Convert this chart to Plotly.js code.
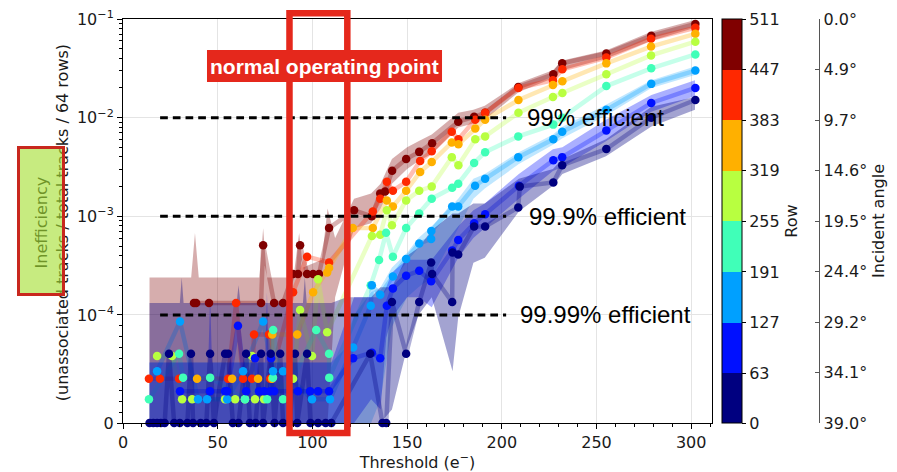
<!DOCTYPE html>
<html><head><meta charset="utf-8">
<script src="https://cdn.plot.ly/plotly-3.0.1.min.js"></script>
<style>html,body{margin:0;padding:0;background:#fff}#chart{width:897px;height:472px}</style>
</head><body><div id="chart"></div>
<script>
// ---------- data ----------
const rowBins = ['0–63','63–127','127–191','191–255','255–319','319–383','383–447','447–511'];
const rowTicks = [0, 63, 127, 191, 255, 319, 383, 447, 511];
const binColors = ['#000080','#0010ff','#00a0ff','#40ffb8','#b8ff40','#ffb000','#ff2800','#800000'];
const angleVals = [0, 4.875, 9.75, 14.625, 19.5, 24.375, 29.25, 34.125, 39];
const angleText = ['0.0°','4.9°','9.7°','14.6°','19.5°','24.4°','29.2°','34.1°','39.0°'];
const xTicks = [0, 50, 100, 150, 200, 250, 300];
const yTickVals = [0, 1e-4, 1e-3, 1e-2, 1e-1];
const yTickText = ['0', '10<sup>−4</sup>', '10<sup>−3</sup>', '10<sup>−2</sup>', '10<sup>−1</sup>'];
const effLevels = [1e-2, 1e-3, 1e-4];
const effLabels = ['99% efficient', '99.9% efficient', '99.99% efficient'];

// rows 0-63
const thr0 = [14,16,18,20,22,24.3,27,30,34,35.9,37,41,44,46,48,53.9,55.5,58,61,65,67,70,72.9,74,78,80,83,84.5,88,90.8,92,97.2,99,103,107,110,130.5,137,139,142,149.5,156.4,162.7,163.2,173.8,174,177,185.4,191.2,208.7,209.5,227.2,231.9,255.2,278.9,302.2];
const ineff0 = [0,0,0,0,0,6.4e-5,0,0,0,6.4e-5,0,0,0,6.4e-5,0,6.4e-5,6.4e-5,0,0,6.4e-5,0,0,6.4e-5,0,6.4e-5,0,6.4e-5,0,0,6.4e-5,0,6.4e-5,0,0,0,0,6.4e-5,0,0,1.35e-4,6.4e-5,1.35e-4,3.4e-4,2.6e-4,1.35e-4,4.3e-4,4.1e-4,7.9e-4,7.9e-4,1.23e-3,2.0e-3,2.2e-3,3.3e-3,4.8e-3,1.0e-2,1.51e-2];
const bandThr0 = [14,30,31,32,60,61,62,95,96,97,110,118,131,136,142,150,156,163,174,177,185,191,209,227,232,255,279,302];
const bandHi0 = [1.32e-4,1.32e-4,2.4e-4,1.32e-4,1.32e-4,2.0e-4,1.32e-4,1.32e-4,2.4e-4,1.32e-4,1.32e-4,1.51e-4,1.51e-4,1.91e-4,1.91e-4,3.98e-4,4.79e-4,7.24e-4,1.07e-3,1.07e-3,1.35e-3,1.35e-3,2.4e-3,3.02e-3,3.8e-3,6.03e-3,1.29e-2,1.62e-2];
const bandLo0 = [0,0,0,0,0,0,0,0,0,0,0,0,0,0,1.24e-5,7.0e-5,1.0e-4,1.51e-4,4.8e-5,9.8e-5,3.39e-4,3.8e-4,1.12e-3,2.04e-3,2.69e-3,4.07e-3,8.13e-3,1.2e-2];

// rows 63-127
const thr1 = [30.1,45.9,53.9,55,60.7,65,69.7,71.8,74.5,77.7,78.2,79.8,92.4,98.8,103,108.8,121.5,131.4,135.8,139.3,142.5,149.5,156.4,162.7,173.8,177,185.4,191.2,209,227.2,231.9,255.2,278.9,302.2];
const ineff1 = [2.95e-5,2.95e-5,2.95e-5,2.95e-5,9.0e-5,2.95e-5,6.0e-5,2.95e-5,2.95e-5,2.95e-5,6.0e-5,2.95e-5,2.95e-5,2.95e-5,2.95e-5,2.95e-5,6.0e-5,6.5e-5,6.0e-5,1.24e-4,1.86e-4,2.5e-4,2.8e-4,2.2e-4,4.5e-4,5.75e-4,8.5e-4,1.05e-3,2.04e-3,3.7e-3,3.98e-3,7.4e-3,1.41e-2,2.0e-2];
const bandThr1 = [14,45,46,47,75,76,77,110,122,131,136,139,142,150,156,163,177,185,191,209,227,232,255,279,302];
const bandHi1 = [5.6e-5,5.6e-5,1.5e-4,5.6e-5,5.6e-5,1.7e-4,5.6e-5,5.6e-5,1.51e-4,1.51e-4,1.51e-4,1.91e-4,2.69e-4,3.63e-4,3.63e-4,3.63e-4,7.94e-4,1.15e-3,1.35e-3,2.69e-3,4.79e-3,5.0e-3,9.55e-3,1.7e-2,2.4e-2];
const bandLo1 = [0,0,0,0,0,0,0,0,0,2.2e-5,1.24e-5,7.9e-5,9.8e-5,1.51e-4,1.51e-4,1.2e-4,3.8e-4,6.03e-4,7.59e-4,1.51e-3,2.88e-3,3.16e-3,5.75e-3,1.15e-2,1.66e-2];

// rows 127-191
const thr2 = [18,30.1,39.6,44.4,55,63.4,74,79.2,84.5,99.8,109.3,121.5,130.8,131.4,135.8,142.5,149.5,156.4,162.7,162.8,173.8,177,185.9,191.2,208.7,227.2,231.9,255.2,278.9,302.2];
const ineff2 = [4.8e-5,9.4e-5,2.2e-5,2.2e-5,2.2e-5,4.8e-5,9.4e-5,4.8e-5,4.8e-5,2.2e-5,2.2e-5,7.0e-5,1.24e-4,2.0e-4,1.6e-4,2.45e-4,3.7e-4,5.3e-4,5.9e-4,7.1e-4,1.26e-3,1.26e-3,2.04e-3,2.4e-3,3.98e-3,6.03e-3,7.2e-3,1.2e-2,2.2e-2,3.0e-2];
const bandThr2 = [14,110,118,122,131,136,142,150,156,163,177,185,191,209,227,232,255,279,302];
const bandHi2 = [5.6e-5,5.6e-5,7.0e-5,1.0e-4,1.7e-4,1.91e-4,3.02e-4,4.27e-4,6.03e-4,7.94e-4,1.51e-3,2.4e-3,2.69e-3,4.47e-3,6.76e-3,8.1e-3,1.35e-2,2.4e-2,3.3e-2];
const bandLo2 = [0,0,0,0,0,2.2e-5,8.9e-5,1.51e-4,1.91e-4,2.4e-4,7.59e-4,1.51e-3,1.91e-3,3.39e-3,5.3e-3,6.2e-3,1.05e-2,2.0e-2,2.7e-2];

// rows 191-255
const thr3 = [13.7,29.6,31.7,46,64.4,76.1,79.2,79.3,84.5,102,108.8,108.9,130.8,135.2,138.9,142.5,149.5,156.4,163,173.8,177,185.4,191.2,208.7,227.2,231.9,255.2,278.9,302.2];
const ineff3 = [2.2e-5,6.4e-5,4.2e-5,4.2e-5,2.2e-5,2.2e-5,4.2e-5,8.6e-5,2.2e-5,8.6e-5,6.4e-5,4.2e-5,2.0e-4,3.6e-4,6.8e-4,3.9e-4,7.6e-4,1.07e-3,1.51e-3,1.95e-3,2.14e-3,3.47e-3,4.47e-3,6.46e-3,8.5e-3,1.0e-2,2.09e-2,3.16e-2,4.37e-2];

// rows 255-319
const thr4 = [18,25.9,31.2,36.5,53.9,59.2,64.4,68.1,69.7,74.5,89.8,93.5,99.8,103,107.8,131.4,135.8,139.3,142,149.5,156.4,163,173.6,177.1,186,191.2,208.8,227,232,255.2,278.8,302.2];
const ineff4 = [6.2e-5,6.2e-5,2.2e-5,2.2e-5,2.2e-5,2.2e-5,2.2e-5,6.2e-5,2.2e-5,2.2e-5,4.1e-5,1.12e-4,6.2e-5,2.3e-4,8.4e-5,6.3e-4,6.5e-4,1.15e-3,8.1e-4,1.45e-3,1.82e-3,2.0e-3,3.98e-3,3.3e-3,6.03e-3,6.46e-3,1.12e-2,1.62e-2,1.78e-2,2.75e-2,4.27e-2,5.89e-2];

// rows 319-383
const thr5 = [39.1,57.6,71.3,78.7,78.8,92,100.4,107.8,108.8,121.3,131.9,139.3,142.5,149.5,156.9,163,173.6,177.1,186,191.2,208.8,227,232,255.2,278.8,302.2];
const ineff5 = [4.1e-5,4.1e-5,4.1e-5,4.1e-5,8.2e-5,8.2e-5,1.7e-4,2.7e-4,3.0e-4,7.6e-4,7.6e-4,1.45e-3,1.26e-3,1.82e-3,2.82e-3,3.55e-3,5.6e-3,5.37e-3,7.76e-3,9.55e-3,1.51e-2,2.14e-2,2.34e-2,3.55e-2,5.25e-2,7.08e-2];

// rows 383-447
const thr6 = [13.7,19.5,29.6,55.5,59.7,63.4,68.1,69.2,77.1,77.7,89.8,97.2,108.8,131.9,135.8,139.3,142.5,149.5,156.9,163,173.6,177.1,186,191.2,208.8,227,232,255.2,278.8,302.2];
const ineff6 = [4.1e-5,4.1e-5,4.1e-5,4.1e-5,1.32e-4,4.1e-5,4.1e-5,8.2e-5,8.2e-5,4.1e-5,1.7e-4,3.9e-4,3.4e-4,1.12e-3,1.51e-3,2.24e-3,1.82e-3,2.24e-3,3.63e-3,4.57e-3,7.2e-3,6.03e-3,9.55e-3,1.12e-2,2.0e-2,2.4e-2,3.09e-2,4.07e-2,6.31e-2,8.13e-2];

// rows 447-511
const thr7 = [37.5,38.6,45.4,72.9,74,79.8,84.5,89.8,92.4,93.5,97.2,100.4,103.5,108.8,122,131.4,135.8,138.4,142.1,149.5,156.4,163.2,177,185.4,191.2,208.7,227.2,231.9,255.2,278.9,302.2];
const ineff7 = [1.32e-4,1.32e-4,1.32e-4,1.32e-4,5.1e-4,1.32e-4,1.32e-4,2.6e-4,2.6e-4,5.1e-4,2.6e-4,2.6e-4,2.6e-4,7.6e-4,1.15e-3,1.0e-3,1.7e-3,1.78e-3,2.9e-3,3.8e-3,4.5e-3,5.5e-3,9.1e-3,1.02e-2,1.12e-2,2.04e-2,2.75e-2,3.55e-2,4.47e-2,6.76e-2,8.9e-2];
const bandThr7 = [14,36,38,40,72,74,76,90,93,95,105,108,112,122,131,136,142,150,156,163,177,185,191,209,227,232,255,279,302];
const bandHi7 = [2.4e-4,2.4e-4,6.76e-4,2.4e-4,2.4e-4,7.59e-4,2.4e-4,2.4e-4,6.76e-4,3.02e-4,3.63e-4,1.2e-3,6.03e-4,1.51e-3,1.7e-3,2.14e-3,3.8e-3,5.0e-3,5.75e-3,6.76e-3,1.12e-2,1.2e-2,1.32e-2,2.24e-2,3.02e-2,3.8e-2,4.79e-2,7.41e-2,9.77e-2];
const bandLo7 = [0,0,0,0,0,0,0,0,0,0,0,0,1.51e-4,7.59e-4,8.51e-4,1.2e-3,2.14e-3,3.02e-3,3.63e-3,4.27e-3,7.94e-3,8.7e-3,9.55e-3,1.82e-2,2.51e-2,3.02e-2,3.98e-2,6.03e-2,8.13e-2];

// ---------- symlog-style transform (linear below 1e-4) ----------
const LIN = 1e-4, LS = 1.095;
const T = v => v <= LIN ? LS * v / LIN : LS + Math.log10(v / LIN);
function rgba(hex, a){const n=parseInt(hex.slice(1),16);return `rgba(${n>>16&255},${n>>8&255},${n&255},${a})`;}

const series = [
  {thr: thr0, val: ineff0, band: {x: bandThr0, hi: bandHi0, lo: bandLo0, a: 0.36}},
  {thr: thr1, val: ineff1, band: {x: bandThr1, hi: bandHi1, lo: bandLo1, a: 0.33}},
  {thr: thr2, val: ineff2, band: {x: bandThr2, hi: bandHi2, lo: bandLo2, a: 0.25}},
  {thr: thr3, val: ineff3},
  {thr: thr4, val: ineff4},
  {thr: thr5, val: ineff5},
  {thr: thr6, val: ineff6},
  {thr: thr7, val: ineff7, band: {x: bandThr7, hi: bandHi7, lo: bandLo7, a: 0.32}}
];
series.forEach((s,i)=>{s.color = binColors[i]; s.name = rowBins[i];});

const traces = [];
for (let i = series.length - 1; i >= 0; i--) {
  const s = series[i];
  if (s.band) {
    traces.push({type:'scatter', mode:'lines', x: s.band.x.concat(s.band.x.slice().reverse()),
      y: s.band.hi.concat(s.band.lo.slice().reverse()).map(T), fill:'toself',
      fillcolor: rgba(s.color, s.band.a), line:{width:0}, hoverinfo:'skip', name: s.name});
  }
  traces.push({type:'scatter', mode:'lines', x: s.thr, y: s.val.map(T),
    line:{color: rgba(s.color, 0.3), width:4.5}, hoverinfo:'skip', name: s.name});
}
for (let i = series.length - 1; i >= 0; i--) {
  const s = series[i];
  traces.push({type:'scatter', mode:'markers', x: s.thr, y: s.val.map(T), cliponaxis:false,
    marker:{size:8.5, color: s.color}, name: s.name});
}
// colour scale (discrete bins)
const cs = [];
for (let i = 0; i < binColors.length; i++) {
  cs.push([rowTicks[i]/511, binColors[i]]);
  cs.push([rowTicks[i+1]/511, binColors[i]]);
}
traces.push({type:'scatter', mode:'markers', x:[-50], y:[-1], cliponaxis:true, hoverinfo:'skip',
  marker:{color:[0], cmin:0, cmax:511, colorscale: cs, opacity:0, showscale:true,
    colorbar:{x:0.794, xanchor:'left', xpad:0, y:0.5, yanchor:'middle', ypad:0,
      thickness:19.5, thicknessmode:'pixels', len:404, lenmode:'pixels',
      outlinecolor:'#000', outlinewidth:1, tickmode:'array', tickvals: rowTicks,
      ticks:'outside', ticklen:4, tickcolor:'#000', tickfont:{size:16, family:'DejaVu Sans', color:'#1a1a1a'},
      title:{text:'Row', side:'right', font:{size:16, family:'DejaVu Sans', color:'#1a1a1a'}}}}});
traces.push({type:'scatter', mode:'markers', x:[null], y:[null], yaxis:'y2', hoverinfo:'skip'});

// minor ticks on y
const minorV = [];
for (let k = 1; k <= 9; k++) minorV.push(k*1e-5);
[1e-4,1e-3,1e-2].forEach(d=>{for(let m=2;m<=9;m++) minorV.push(m*d);});

const RED = '#e5281c';
const shapes = effLevels.map((lv)=>({type:'line', xref:'x', yref:'y', x0:19.6, x1:202.3, y0:T(lv), y1:T(lv),
  line:{color:'#000', width:3, dash:'7.7px,5px'}, layer:'above'}));
shapes.push({type:'rect', xref:'paper', yref:'paper', x0:0.2208, x1:0.2975, y0:-0.0248, y1:1.0141,
  line:{color:RED, width:6.5}, fillcolor:'rgba(0,0,0,0)', layer:'above'});
shapes.push({type:'rect', xref:'paper', yref:'paper', x0:0.1114, x1:0.4231, y0:0.8441, y1:0.9233,
  line:{width:0}, fillcolor:RED, layer:'above'});

const effX = [212.4, 213.4, 208.7];
const annotations = effLabels.map((t,i)=>({xref:'x', yref:'y', x: effX[i], y: T(effLevels[i]), text:t,
  showarrow:false, xanchor:'left', yanchor:'middle', font:{family:'Liberation Sans, Arial', size:24, color:'#000'}}));
annotations.push({xref:'paper', yref:'paper', x:0.2672, y:0.8824, text:'normal operating point', showarrow:false,
  xanchor:'center', yanchor:'middle', font:{family:'Liberation Sans, Arial', size:21, color:'#fff', weight:'bold'}});
annotations.push({xref:'paper', yref:'paper', x:-0.0942, y:0.497, text:'Inefficiency<br>(unassociated tracks / total tracks / 64 rows)',
  showarrow:false, textangle:-90, xanchor:'center', yanchor:'middle', font:{family:'DejaVu Sans', size:16, color:'#1a1a1a'}});
annotations.push({xref:'paper', yref:'paper', x:-0.1094, y:0.5012, text:' ', showarrow:false, width:42, height:144,
  bgcolor:'rgba(165,222,50,0.62)', bordercolor:'#c8281e', borderwidth:3, borderpad:0, xanchor:'center', yanchor:'middle'});

const axFont = {family:'DejaVu Sans', size:16, color:'#1a1a1a'};
const layout = {
  width:897, height:472, margin:{l:123, r:20, t:19, b:49},
  paper_bgcolor:'#fff', plot_bgcolor:'#fff', showlegend:false, hovermode:false,
  font: axFont,
  xaxis:{domain:[0,0.7812], range:[0,311], tickmode:'array', tickvals:xTicks, ticks:'outside', ticklen:5, tickcolor:'#000',
    showline:true, linecolor:'#000', linewidth:1, mirror:true, showgrid:true, gridcolor:'#e4e4e4', zeroline:false,
    tickfont:axFont, automargin:false,
    minor:{dtick:10, tick0:0, ticks:'outside', ticklen:3, tickcolor:'#000', showgrid:false},
    title:{text:'Threshold (e<sup>−</sup>)', font:axFont, standoff:2}},
  yaxis:{range:[0, T(1e-1)], tickmode:'array', tickvals: yTickVals.map(T), ticktext: yTickText, ticks:'outside', ticklen:5,
    tickcolor:'#000', showline:true, linecolor:'#000', linewidth:1, mirror:true, showgrid:true, gridcolor:'#e4e4e4',
    zeroline:false, tickfont:axFont, automargin:false,
    minor:{tickmode:'array', tickvals: minorV.map(T), ticks:'outside', ticklen:3, tickcolor:'#000', showgrid:false}},
  yaxis2:{overlaying:'y', anchor:'free', position:0.9235, side:'right', range:[39,0], autorange:false,
    tickmode:'array', tickvals: angleVals, ticktext: angleText, ticks:'inside', ticklen:4, tickcolor:'#555',
    showline:true, linecolor:'#555', linewidth:1, showgrid:false, zeroline:false, tickfont:axFont, automargin:false,
    title:{text:'Incident angle', font:axFont}},
  shapes, annotations
};
Plotly.newPlot('chart', traces, layout, {staticPlot:true, displayModeBar:false});
</script></body></html>
